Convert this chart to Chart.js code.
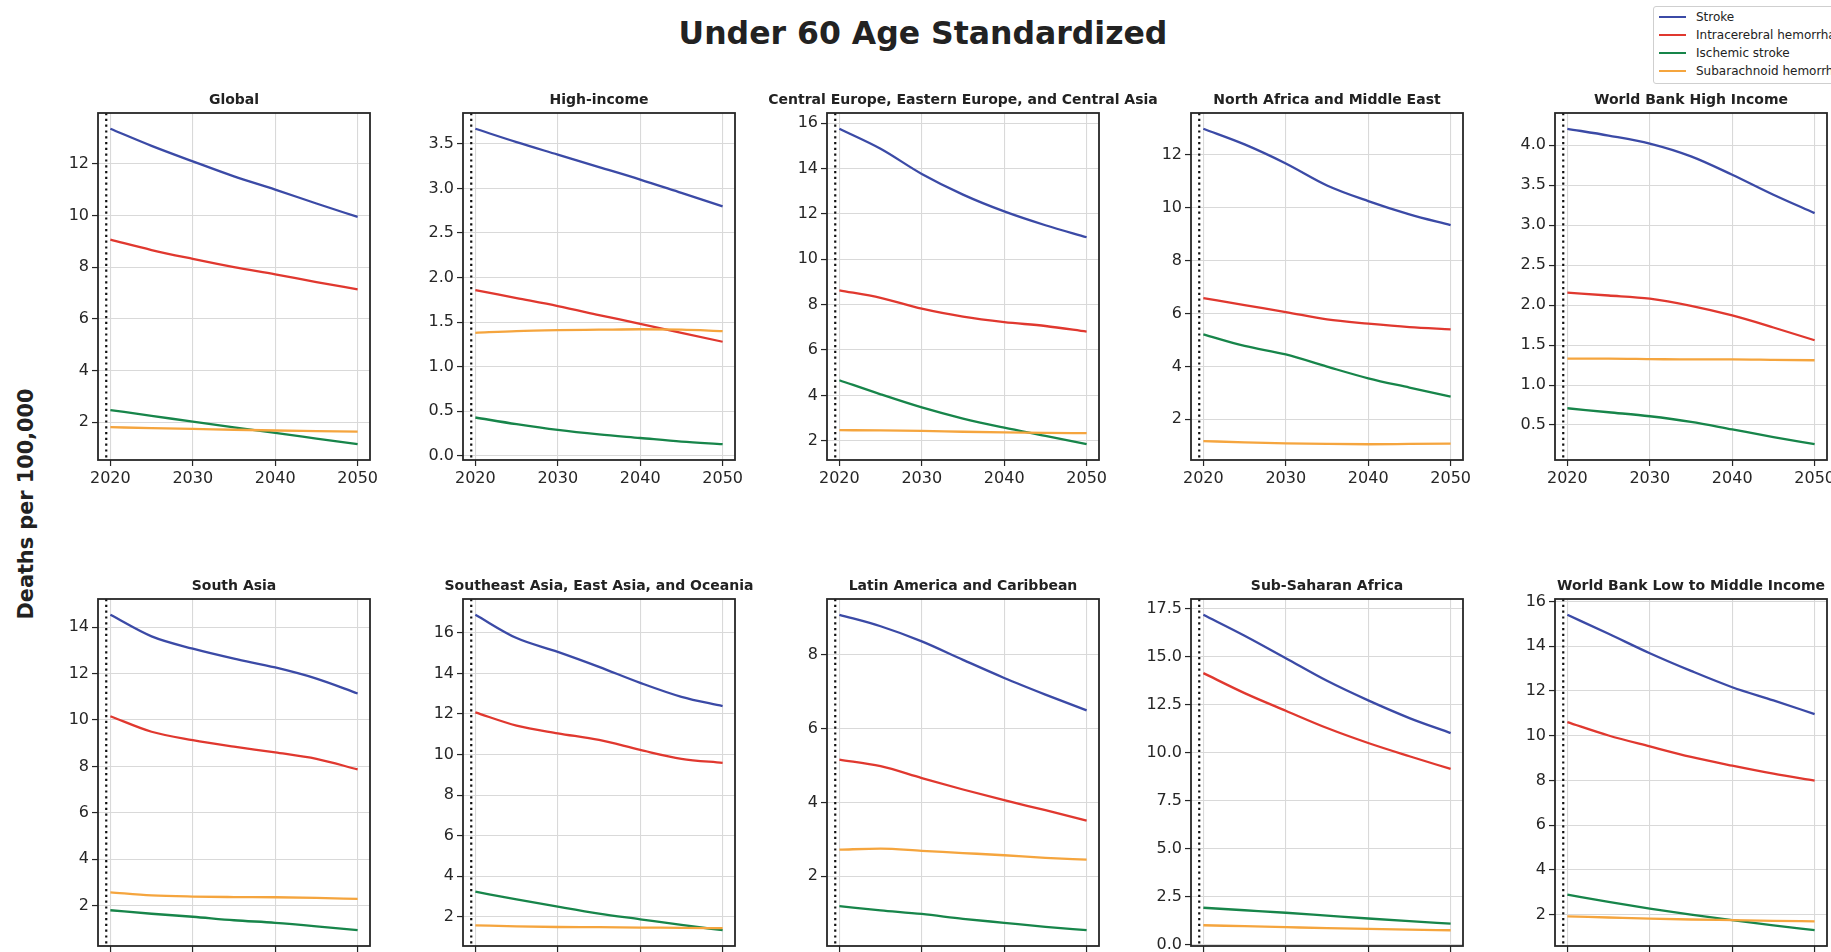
<!DOCTYPE html>
<html>
<head>
<meta charset="utf-8">
<script src="https://cdn.jsdelivr.net/npm/chart.js@4.4.1/dist/chart.umd.min.js"></script>
<style>
  html, body { margin: 0; padding: 0; background: #fff; }
  body { width: 1831px; height: 952px; overflow: hidden; position: relative; font-family: 'DejaVu Sans', sans-serif; }
  canvas { position: absolute; }
  #title { position: absolute; left: 923px; top: 18px; transform: translateX(-50%); font: bold 31.5px 'DejaVu Sans'; line-height: 31.5px; color: #222; white-space: nowrap; }
  #ylabel { position: absolute; left: 26px; top: 504px; transform: translate(-50%, -50%) rotate(-90deg); font: bold 20.8px 'DejaVu Sans'; color: #222; white-space: nowrap; }
  #legend { position: absolute; left: 1653px; top: 6px; width: 210px; height: 76px; border: 1px solid #cfcfcf; border-radius: 3px; background: #fff; }
  .li { position: absolute; left: 0; height: 18px; width: 210px; }
  .sw { position: absolute; left: 5px; top: 8px; width: 27px; height: 2px; }
  .lt { position: absolute; left: 42px; top: 0; font: 12px 'DejaVu Sans'; line-height: 18px; color: #222; white-space: nowrap; }
</style>
</head>
<body>
<div id="title">Under 60 Age Standardized</div>
<div id="ylabel">Deaths per 100,000</div>
<div id="legend"></div>
<script>
// ---------------- DATA ----------------
const years = [2020, 2025, 2030, 2035, 2040, 2045, 2050];
const xTicks = [2020, 2030, 2040, 2050];
const forecastStart = 2019.5;

const regions = [
  "Global", "High-income", "Central Europe, Eastern Europe, and Central Asia",
  "North Africa and Middle East", "World Bank High Income",
  "South Asia", "Southeast Asia, East Asia, and Oceania", "Latin America and Caribbean",
  "Sub-Saharan Africa", "World Bank Low to Middle Income"
];

const seriesNames = ["Stroke", "Intracerebral hemorrhage", "Ischemic stroke", "Subarachnoid hemorrhage"];

const stroke = [
  [13.35, 12.69, 12.09, 11.51, 11.00, 10.46, 9.94],
  [3.67, 3.52, 3.38, 3.24, 3.10, 2.95, 2.80],
  [15.75, 14.87, 13.76, 12.85, 12.11, 11.50, 10.97],
  [12.97, 12.38, 11.66, 10.83, 10.24, 9.74, 9.33],
  [4.205, 4.12, 4.02, 3.86, 3.63, 3.38, 3.15],
  [14.53, 13.60, 13.07, 12.64, 12.26, 11.78, 11.14],
  [16.90, 15.75, 15.07, 14.33, 13.54, 12.85, 12.39],
  [9.08, 8.77, 8.36, 7.86, 7.37, 6.92, 6.49],
  [17.19, 16.10, 14.93, 13.75, 12.73, 11.81, 11.03],
  [15.41, 14.56, 13.69, 12.90, 12.17, 11.58, 10.97]
];
const intracerebral = [
  [9.06, 8.66, 8.32, 8.00, 7.72, 7.42, 7.14],
  [1.86, 1.77, 1.68, 1.58, 1.48, 1.38, 1.28],
  [8.63, 8.30, 7.82, 7.47, 7.23, 7.06, 6.81],
  [6.58, 6.31, 6.05, 5.77, 5.61, 5.48, 5.40],
  [2.155, 2.12, 2.08, 1.99, 1.87, 1.72, 1.56],
  [10.16, 9.49, 9.13, 8.85, 8.60, 8.32, 7.87],
  [12.08, 11.43, 11.05, 10.72, 10.23, 9.79, 9.59],
  [5.16, 4.98, 4.66, 4.35, 4.06, 3.79, 3.51],
  [14.15, 13.11, 12.19, 11.29, 10.51, 9.82, 9.16],
  [10.61, 10.01, 9.52, 9.05, 8.66, 8.30, 7.99]
];
const ischemic = [
  [2.47, 2.25, 2.02, 1.80, 1.59, 1.37, 1.15],
  [0.43, 0.355, 0.29, 0.24, 0.20, 0.16, 0.13],
  [4.67, 4.05, 3.47, 2.98, 2.58, 2.22, 1.85],
  [5.21, 4.77, 4.45, 3.99, 3.55, 3.20, 2.86],
  [0.71, 0.66, 0.61, 0.54, 0.445, 0.35, 0.26],
  [1.80, 1.65, 1.52, 1.37, 1.26, 1.11, 0.94],
  [3.23, 2.85, 2.49, 2.15, 1.87, 1.59, 1.33],
  [1.19, 1.08, 0.98, 0.85, 0.74, 0.63, 0.54],
  [1.93, 1.80, 1.67, 1.52, 1.37, 1.23, 1.10],
  [2.89, 2.57, 2.27, 2.00, 1.75, 1.52, 1.30]
];
const subarachnoid = [
  [1.81, 1.77, 1.74, 1.71, 1.68, 1.66, 1.64],
  [1.38, 1.40, 1.41, 1.415, 1.42, 1.415, 1.40],
  [2.47, 2.46, 2.44, 2.40, 2.37, 2.35, 2.34],
  [1.18, 1.13, 1.09, 1.07, 1.06, 1.07, 1.08],
  [1.33, 1.33, 1.325, 1.32, 1.32, 1.315, 1.31],
  [2.57, 2.44, 2.39, 2.37, 2.36, 2.33, 2.29],
  [1.57, 1.52, 1.49, 1.48, 1.46, 1.45, 1.43],
  [2.72, 2.75, 2.69, 2.63, 2.57, 2.50, 2.45],
  [1.02, 0.97, 0.92, 0.87, 0.83, 0.79, 0.76],
  [1.92, 1.87, 1.82, 1.78, 1.75, 1.72, 1.70]
];

const yTicks = [
  [2, 4, 6, 8, 10, 12],
  [0.0, 0.5, 1.0, 1.5, 2.0, 2.5, 3.0, 3.5],
  [2, 4, 6, 8, 10, 12, 14, 16],
  [2, 4, 6, 8, 10, 12],
  [0.5, 1.0, 1.5, 2.0, 2.5, 3.0, 3.5, 4.0],
  [2, 4, 6, 8, 10, 12, 14],
  [2, 4, 6, 8, 10, 12, 14, 16],
  [2, 4, 6, 8],
  [0.0, 2.5, 5.0, 7.5, 10.0, 12.5, 15.0, 17.5],
  [2, 4, 6, 8, 10, 12, 14, 16]
];

// ---------------- STYLE / LAYOUT ----------------
const colors = ["#3b4aa6", "#e0382f", "#17854a", "#f5a53e"];
const panelLefts = [98, 463, 827, 1191, 1555];
const rowTops = [113, 599];
const plotW = 272, plotH = 347;
const axisW = 80, extraL = 70, padT = 30, padR = 90, padB = 40;
const FONT = "'DejaVu Sans'";

// legend
const legend = document.getElementById('legend');
seriesNames.forEach((n, k) => {
  const row = document.createElement('div');
  row.className = 'li';
  row.style.top = (1 + k * 18.1) + 'px';
  row.innerHTML = '<div class="sw" style="background:' + colors[k] + '"></div><div class="lt">' + n + '</div>';
  legend.appendChild(row);
});

const panelPlugin = {
  id: 'panelDecor',
  beforeDatasetsDraw(chart) {
    const { ctx, chartArea: a, scales } = chart;
    const x = scales.x.getPixelForValue(forecastStart);
    ctx.save();
    ctx.strokeStyle = '#111';
    ctx.lineWidth = 2.2;
    ctx.setLineDash([2.2, 3.6]);
    ctx.beginPath();
    ctx.moveTo(x, a.top);
    ctx.lineTo(x, a.bottom);
    ctx.stroke();
    ctx.restore();
  },
  afterDraw(chart) {
    const { ctx, chartArea: a } = chart;
    ctx.save();
    ctx.strokeStyle = '#262626';
    ctx.lineWidth = 1.8;
    ctx.strokeRect(a.left, a.top, a.right - a.left, a.bottom - a.top);
    ctx.fillStyle = '#222';
    ctx.font = 'bold 14px ' + FONT;
    ctx.textAlign = 'center';
    ctx.textBaseline = 'alphabetic';
    ctx.fillText(chart.options.panelTitle, (a.left + a.right) / 2, a.top - 9.5);
    ctx.restore();
  }
};

regions.forEach((name, i) => {
  const row = Math.floor(i / 5), col = i % 5;
  const cv = document.createElement('canvas');
  const W = extraL + axisW + plotW + padR, H = padT + plotH + padB;
  cv.width = W; cv.height = H;
  cv.style.width = W + 'px'; cv.style.height = H + 'px';
  cv.style.left = (panelLefts[col] - axisW - extraL) + 'px';
  cv.style.top = (rowTops[row] - padT) + 'px';
  document.body.appendChild(cv);

  const all = [stroke[i], intracerebral[i], ischemic[i], subarachnoid[i]];
  const flat = all.flat();
  const lo = Math.min(...flat), hi = Math.max(...flat);
  const m = (hi - lo) * 0.05;
  const ticks = yTicks[i];
  const dec = ticks.some(v => !Number.isInteger(v)) ? 1 : 0;

  new Chart(cv, {
    type: 'line',
    data: {
      datasets: all.map((arr, k) => ({
        label: seriesNames[k],
        data: years.map((yr, j) => ({ x: yr, y: arr[j] })),
        borderColor: colors[k],
        backgroundColor: colors[k],
        borderWidth: 2.3,
        pointRadius: 0,
        fill: false,
        cubicInterpolationMode: 'monotone',
        order: 4 - k
      }))
    },
    options: {
      panelTitle: name,
      responsive: false,
      animation: false,
      devicePixelRatio: 1,
      layout: { padding: { left: extraL, top: padT, right: padR, bottom: 0 } },
      plugins: { legend: { display: false }, tooltip: { enabled: false }, title: { display: false } },
      scales: {
        x: {
          type: 'linear', min: 2018.5, max: 2051.5,
          afterBuildTicks: s => { s.ticks = xTicks.map(v => ({ value: v })); },
          afterFit: s => { s.height = padB; },
          border: { display: false },
          grid: { color: '#d9d9d9', lineWidth: 1.1, drawTicks: true, tickLength: 6, tickColor: '#262626', tickWidth: 1.2 },
          ticks: { autoSkip: false, maxRotation: 0, padding: 3, color: '#262626', font: { family: FONT, size: 16 }, callback: v => String(v) }
        },
        y: {
          type: 'linear', min: lo - m, max: hi + m,
          afterBuildTicks: s => { s.ticks = ticks.map(v => ({ value: v })); },
          afterFit: s => { s.width = axisW; },
          border: { display: false },
          grid: { color: '#d9d9d9', lineWidth: 1.1, drawTicks: true, tickLength: 6, tickColor: '#262626', tickWidth: 1.2 },
          ticks: { autoSkip: false, padding: 3, color: '#262626', font: { family: FONT, size: 16 }, callback: v => Number(v).toFixed(dec) }
        }
      }
    },
    plugins: [panelPlugin]
  });
});
</script>
</body>
</html>
